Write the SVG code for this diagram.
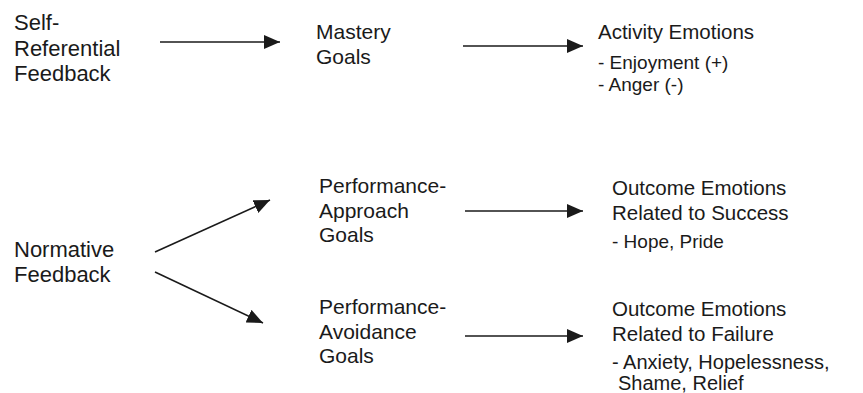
<svg xmlns="http://www.w3.org/2000/svg" width="863" height="393" viewBox="0 0 863 393">
<style>
.t{font-family:"Liberation Sans",Arial,sans-serif;font-size:21px;fill:#1a1a1a}
.l{font-size:22px}
.h{font-size:20.5px}
.s{font-family:"Liberation Sans",Arial,sans-serif;font-size:19px;fill:#1a1a1a}
.c line{stroke:#1a1a1a;stroke-width:1.6;marker-end:url(#ah)}
</style>
<defs>
<marker id="ah" markerUnits="userSpaceOnUse" markerWidth="18" markerHeight="14" refX="16" refY="7" orient="auto">
<path d="M0,0 L16,7 L0,14 Z" fill="#1a1a1a"/>
</marker>
</defs>
<rect width="863" height="393" fill="#fff"/>
<g id="self-referential-feedback"><text class="t l" x="14" y="30">Self-</text><text class="t l" x="14" y="56">Referential</text><text class="t l" x="14" y="81">Feedback</text></g>
<g id="normative-feedback"><text class="t l" x="14" y="257">Normative</text><text class="t l" x="14" y="282">Feedback</text></g>
<g id="mastery-goals"><text class="t" x="316" y="39">Mastery</text><text class="t" x="316" y="64">Goals</text></g>
<g id="performance-approach-goals"><text class="t" x="319" y="193">Performance-</text><text class="t" x="319" y="218">Approach</text><text class="t" x="319" y="242">Goals</text></g>
<g id="performance-avoidance-goals"><text class="t" x="319" y="314">Performance-</text><text class="t" x="319" y="339">Avoidance</text><text class="t" x="319" y="363">Goals</text></g>
<g id="activity-emotions"><text class="t h" x="598" y="39">Activity Emotions</text><text class="s" x="598" y="69">- Enjoyment (+)</text><text class="s" x="598" y="91">- Anger (-)</text></g>
<g id="outcome-success"><text class="t h" x="612" y="195">Outcome Emotions</text><text class="t h" x="612" y="220">Related to Success</text><text class="s" x="612" y="248">- Hope, Pride</text></g>
<g id="outcome-failure"><text class="t h" x="612" y="316">Outcome Emotions</text><text class="t h" x="612" y="341">Related to Failure</text><text class="s" x="612" y="369" style="font-size:20px">- Anxiety, Hopelessness,</text><text class="s" x="618" y="390" style="font-size:20px">Shame, Relief</text></g>
<g id="connectors" class="c">
<line x1="160" y1="42" x2="280" y2="42"/>
<line x1="463" y1="46" x2="583" y2="46"/>
<line x1="155" y1="252" x2="270" y2="200"/>
<line x1="155" y1="272" x2="263" y2="323"/>
<line x1="465" y1="211" x2="583" y2="211"/>
<line x1="465" y1="336" x2="583" y2="336"/>
</g>
</svg>
